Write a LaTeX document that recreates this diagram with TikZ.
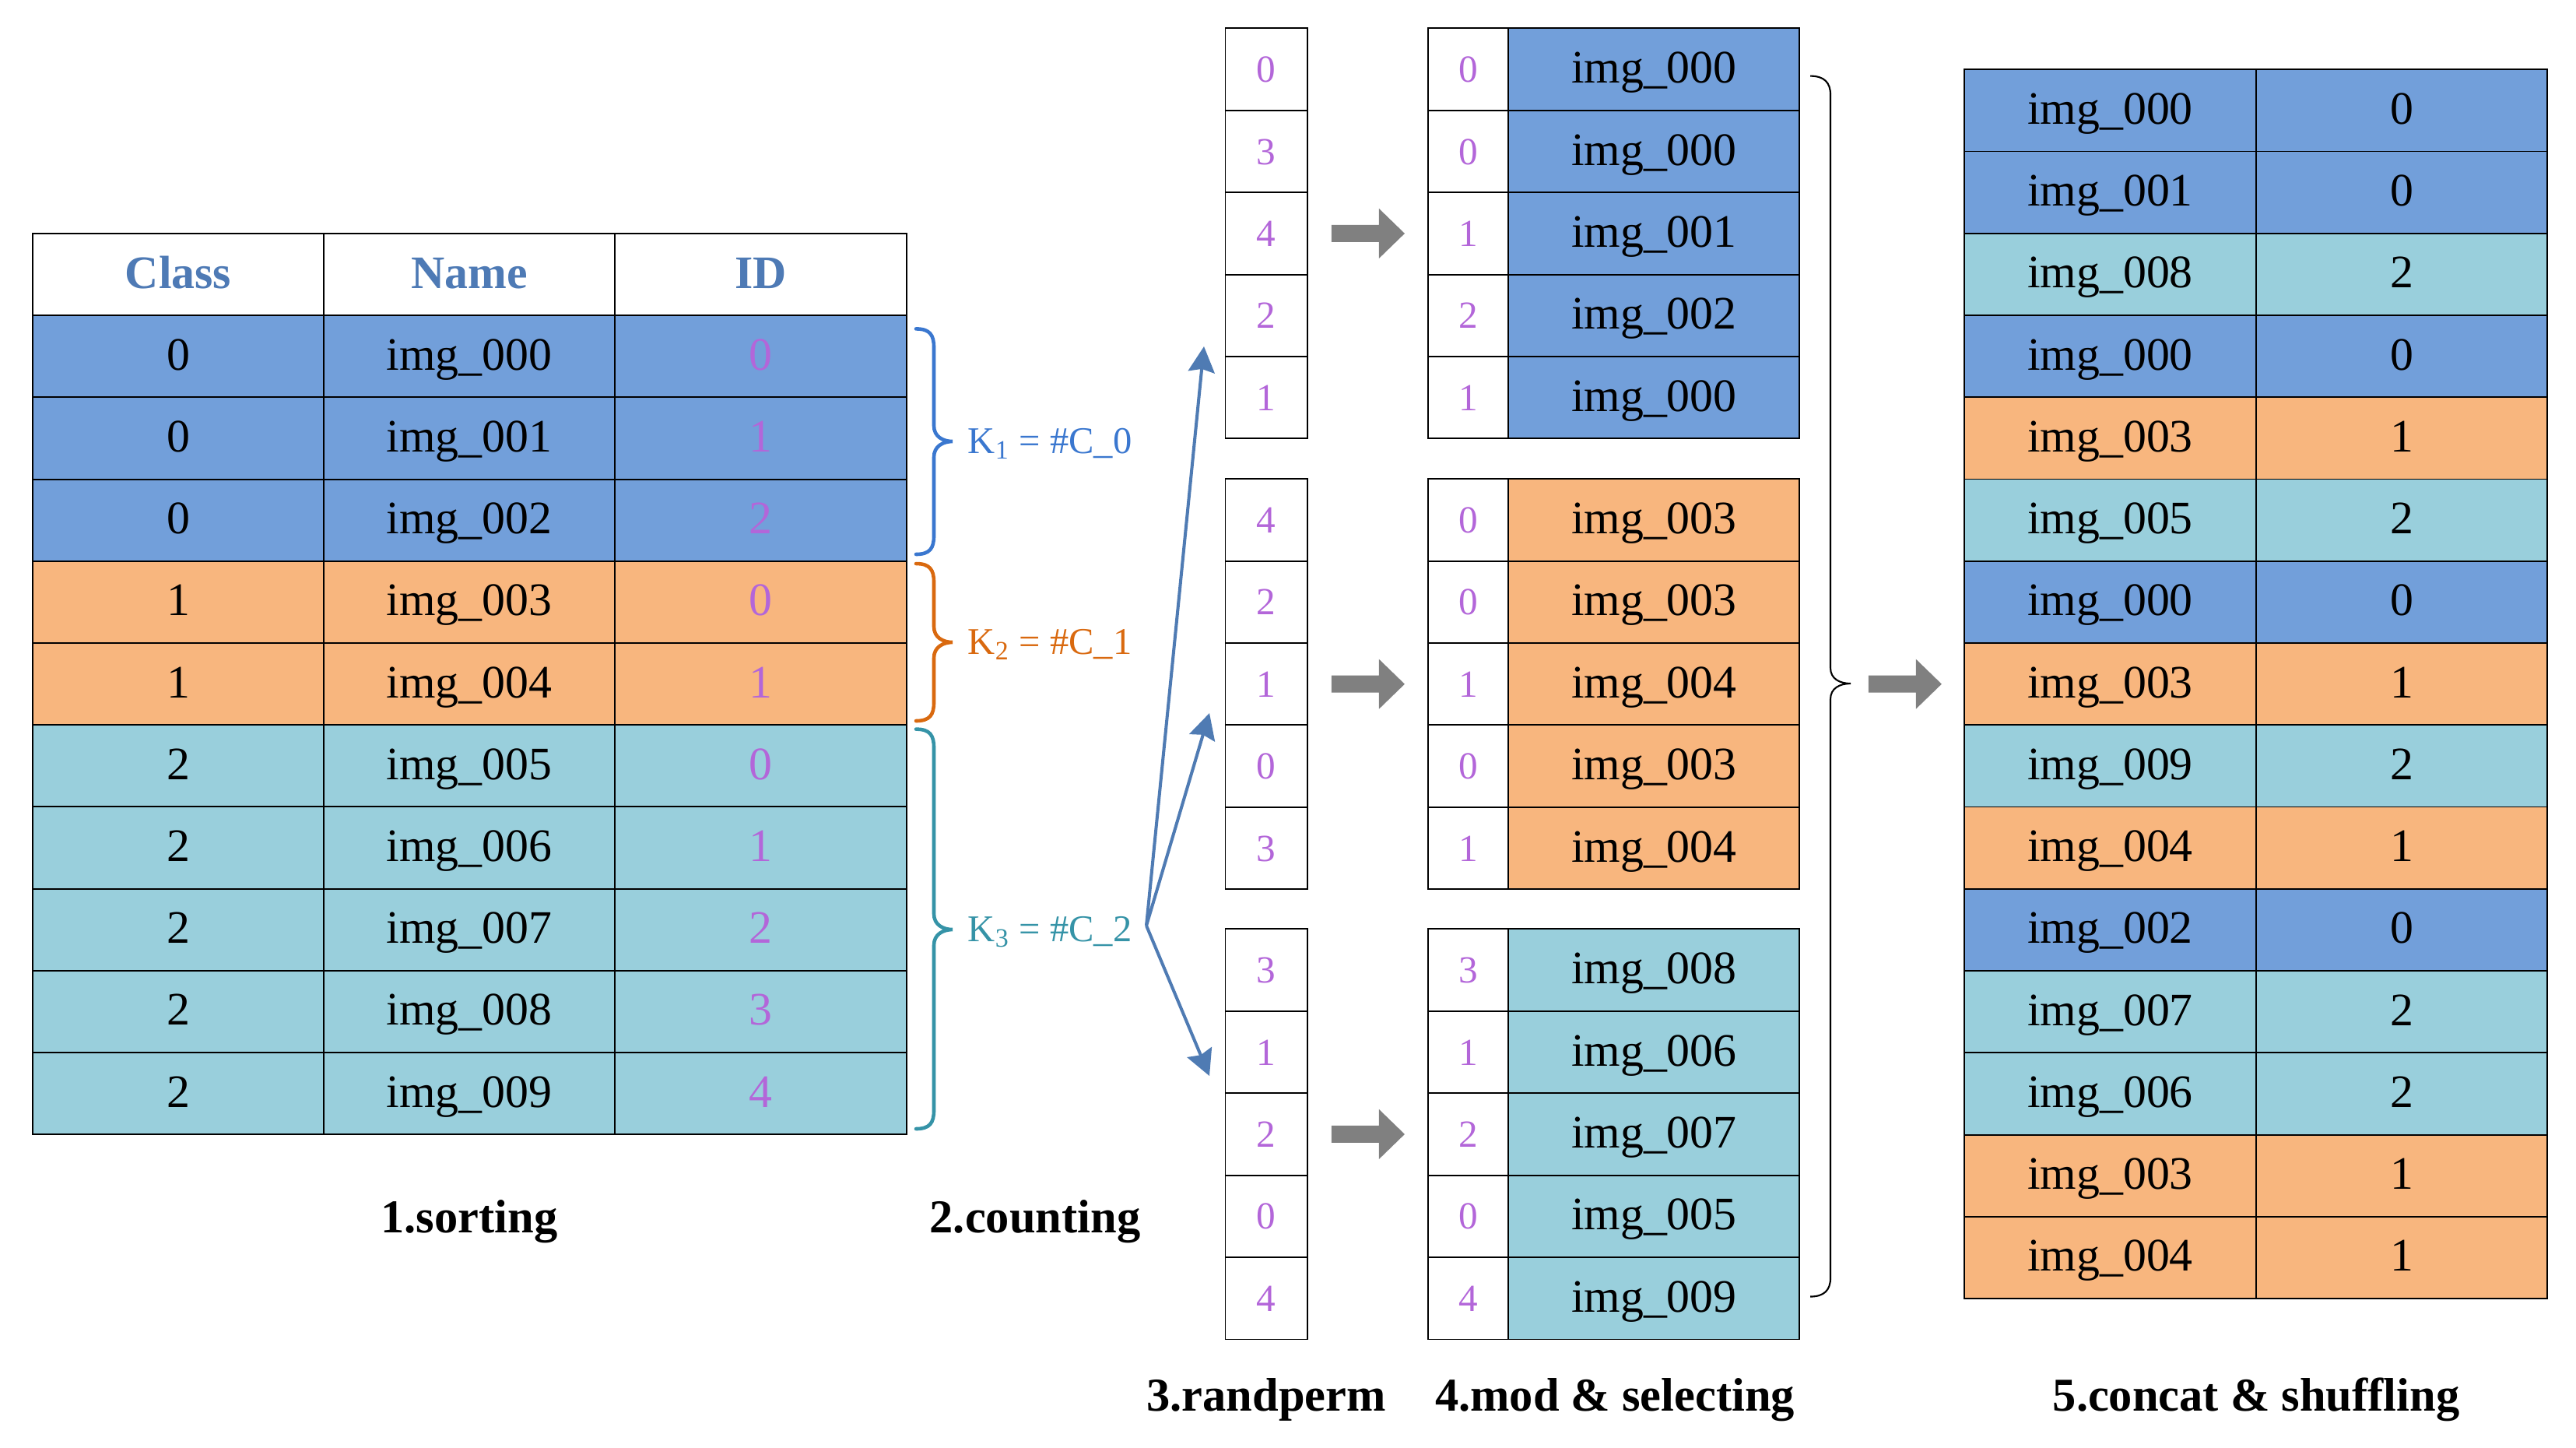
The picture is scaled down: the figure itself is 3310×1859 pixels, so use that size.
\documentclass[tikz,border=0pt]{standalone}
\usepackage{fontspec}
\setmainfont{Liberation Serif}
\usetikzlibrary{arrows.meta}
\newcommand\mytabfont{\fontsize{17}{20}\selectfont}
\newcommand\mysmallfont{\fontsize{14}{17}\selectfont}
\newcommand\mylblfont{\fontsize{17.2}{20}\selectfont\bfseries}
\newcommand\mykfont{\fontsize{13.8}{16}\selectfont}
\definecolor{cblue}{HTML}{729FDA}
\definecolor{corange}{HTML}{F8B67E}
\definecolor{cteal}{HTML}{99CFDC}
\definecolor{hdr}{HTML}{4E7AB5}
\definecolor{idp}{HTML}{B366D9}
\definecolor{brblue}{HTML}{3A77CF}
\definecolor{brorange}{HTML}{D9690F}
\definecolor{brteal}{HTML}{3593A7}
\definecolor{arrblue}{HTML}{4F7BB3}
\definecolor{agray}{HTML}{808080}
\colorlet{cls0}{cblue}
\colorlet{cls1}{corange}
\colorlet{cls2}{cteal}
\begin{document}
\begin{tikzpicture}[x=0.01cm,y=-0.01cm,
  cell/.style={draw=black, line width=0.55pt, inner sep=0pt, minimum height=1.052cm,
    text height=0.35cm, text depth=0pt, align=center, font=\mytabfont},
  pcell/.style={cell, fill=white, text=idp, minimum width=1.05cm, minimum height=1.054cm,
    font=\mysmallfont, text height=0.33cm},
  hcell/.style={cell, fill=white, text=hdr, font=\mytabfont\bfseries},
  lbl/.style={inner sep=0pt, anchor=base, font=\mylblfont},
  klbl/.style={inner sep=0pt, anchor=base west, font=\mykfont},
  barr/.style={arrblue, line width=1.15pt, -{Stealth[length=0.33cm,width=0.34cm,inset=0.04cm]}},
  cbrace/.style={line width=1.3pt, line cap=round},
  garrow/.pic={\fill[agray] (0,-11) -- (61,-11) -- (61,-32) -- (94,0) -- (61,32) -- (61,11) -- (0,11) -- cycle;}
]
\useasboundingbox (0,0) rectangle (3310,1859);

% ---------- 1. sorting table ----------
\node[hcell, minimum width=3.74cm] (Hc) at (229,352.6) {Class};
\node[hcell, minimum width=3.74cm] (Hn) at (603,352.6) {Name};
\node[hcell, minimum width=3.75cm] (Hi) at (977.5,352.6) {ID};
\foreach \c/\n/\d [count=\i] in {0/000/0,0/001/1,0/002/2,1/003/0,1/004/1,2/005/0,2/006/1,2/007/2,2/008/3,2/009/4}{
  \node[cell, fill=cls\c, minimum width=3.74cm] (Lc\i) at (229,{352.6+105.2*\i}) {\c};
  \node[cell, fill=cls\c, minimum width=3.74cm] (Ln\i) at (603,{352.6+105.2*\i}) {img\_\n};
  \node[cell, fill=cls\c, minimum width=3.75cm, text=idp] (Li\i) at (977.5,{352.6+105.2*\i}) {\d};
}

% ---------- 2. counting braces ----------
\foreach \t/\m/\b/\col in {422.4/567/712/brblue, 724/825/926/brorange, 936.6/1194/1450/brteal}{
  \draw[cbrace, \col] (1177,\t) .. controls (1195,\t) and (1200,{\t+8}) .. (1200,{\t+24})
    -- (1200,{\m-20}) .. controls (1200,{\m-6}) and (1212,\m) .. (1224,\m)
    .. controls (1212,\m) and (1200,{\m+6}) .. (1200,{\m+20})
    -- (1200,{\b-24}) .. controls (1200,{\b-8}) and (1195,\b) .. (1177,\b);
}
\node[klbl, text=brblue] (K1) at (1243,582) {K\textsubscript{1} = \#C\_0};
\node[klbl, text=brorange] (K2) at (1243,840) {K\textsubscript{2} = \#C\_1};
\node[klbl, text=brteal] (K3) at (1243,1209) {K\textsubscript{3} = \#C\_2};

\coordinate (fan) at (1473,1189);
\coordinate (t1) at (1547,445);
\coordinate (t2) at (1554,916);
\coordinate (t3) at (1554,1382);
\draw[barr] (fan) -- (t1);
\draw[barr] (fan) -- (t2);
\draw[barr] (fan) -- (t3);

% ---------- 3. randperm + 4. mod & selecting ----------
\foreach \v/\p/\n [count=\r] in {0/0/000,3/0/000,4/1/001,2/2/002,1/1/000}{
  \node[pcell] (P1-\r) at (1627,{89.1+105.4*(\r-1)}) {\v};
  \node[pcell, minimum width=1.036cm] (Mi1-\r) at (1886.5,{89.1+105.4*(\r-1)}) {\p};
  \node[cell, fill=cblue, minimum width=3.739cm, minimum height=1.054cm] (Mn1-\r) at (2125.25,{89.1+105.4*(\r-1)}) {img\_\n};
}
\foreach \v/\p/\n [count=\r] in {4/0/003,2/0/003,1/1/004,0/0/003,3/1/004}{
  \node[pcell] (P2-\r) at (1627,{667.9+105.4*(\r-1)}) {\v};
  \node[pcell, minimum width=1.036cm] (Mi2-\r) at (1886.5,{667.9+105.4*(\r-1)}) {\p};
  \node[cell, fill=corange, minimum width=3.739cm, minimum height=1.054cm] (Mn2-\r) at (2125.25,{667.9+105.4*(\r-1)}) {img\_\n};
}
\foreach \v/\p/\n [count=\r] in {3/3/008,1/1/006,2/2/007,0/0/005,4/4/009}{
  \node[pcell] (P3-\r) at (1627,{1246.1+105.4*(\r-1)}) {\v};
  \node[pcell, minimum width=1.036cm] (Mi3-\r) at (1886.5,{1246.1+105.4*(\r-1)}) {\p};
  \node[cell, fill=cteal, minimum width=3.739cm, minimum height=1.054cm] (Mn3-\r) at (2125.25,{1246.1+105.4*(\r-1)}) {img\_\n};
}
\pic at ([xshift=0.304cm]P1-3.east) {garrow};
\pic at ([xshift=0.304cm]P2-3.east) {garrow};
\pic at ([xshift=0.304cm]P3-3.east) {garrow};

% ---------- big brace ----------
\draw[line width=0.6pt, black] (2326,97.6) .. controls (2344,97.6) and (2352,106) .. (2352,121.7)
  -- (2352,858) .. controls (2352,872) and (2364,878) .. (2378,878)
  .. controls (2364,878) and (2352,884) .. (2352,898)
  -- (2352,1641.5) .. controls (2352,1657) and (2344,1665.5) .. (2326,1665.5);
\coordinate (bigtip) at (2378,878);

% ---------- 5. concat & shuffling ----------
\foreach \c/\n [count=\i] in {0/000,0/001,2/008,0/000,1/003,2/005,0/000,1/003,2/009,1/004,0/002,2/007,2/006,1/003,1/004}{
  \node[cell, fill=cls\c, minimum width=3.75cm, minimum height=1.0525cm] (Fn\i) at (2711.5,{141.9+105.25*(\i-1)}) {img\_\n};
  \node[cell, fill=cls\c, minimum width=3.74cm, minimum height=1.0525cm] (Fc\i) at (3086,{141.9+105.25*(\i-1)}) {\c};
}
\pic at ([xshift=-1.22cm]Fn8.west) {garrow};

% ---------- step labels ----------
\node[lbl] (s1) at (603,1583) {1.sorting};
\node[lbl] (s2) at (1330,1583) {2.counting};
\node[lbl] (s3) at (1627,1812.7) {3.randperm};
\node[lbl] (s4) at (2075,1812.7) {4.mod \& selecting};
\node[lbl] (s5) at (2899,1812.7) {5.concat \& shuffling};
\end{tikzpicture}
\end{document}
